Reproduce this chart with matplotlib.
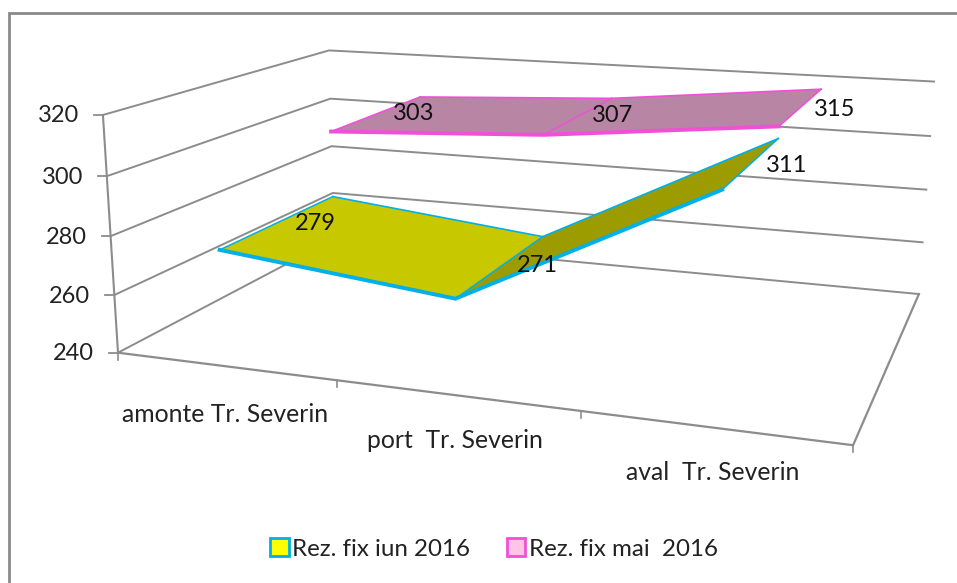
import numpy as np
import matplotlib
matplotlib.use("Agg")
import matplotlib.pyplot as plt
from matplotlib.patches import Polygon, Patch

categories = ["amonte Tr. Severin", "port  Tr. Severin", "aval  Tr. Severin"]
series_names = ["Rez. fix iun 2016", "Rez. fix mai  2016"]
values_jun = [279, 271, 311]
values_mai = [303, 307, 315]
value_ticks = [240, 260, 280, 300, 320]

plt.rcParams['font.family'] = ['Lato', 'DejaVu Sans']
GREY = "#8c8c8c"
FS = 17

# Camera of the 3-D box: (category, depth, value) -> pixel
box = [((0, 0, 240), (118, 352)), ((0, 0, 320), (103, 115)),
       ((0, 2, 240), (334, 240)), ((0, 2, 320), (329, 50)),
       ((3, 2, 240), (919, 293)), ((3, 2, 320), (934, 82)),
       ((3, 0, 240), (853, 446))]
A = []
for (X, Y, Z), (u, v) in box:
    Z = (Z - 240) / 80
    A.append([X, Y, Z, 1, 0, 0, 0, 0, -u * X, -u * Y, -u * Z, -u])
    A.append([0, 0, 0, 0, X, Y, Z, 1, -v * X, -v * Y, -v * Z, -v])
P = np.linalg.svd(np.array(A, float))[2][-1].reshape(3, 4)


def proj(x, d, val):
    h = P @ np.array([x, d, (val - 240) / 80, 1.0])
    return h[0] / h[2], h[1] / h[2]


fig = plt.figure(figsize=(9.57, 5.83), dpi=100)
ax = fig.add_axes([0, 0, 1, 1])
ax.set_xlim(0, 957)
ax.set_ylim(583, 0)
ax.axis("off")

# chart frame: only its top and left edges are inside the picture
ax.plot([8.5, 8.5, 957], [583, 13, 13], color="#8a8a8a", lw=2, solid_joinstyle="miter", zorder=1)

# walls and floor
for val in value_ticks:
    pts = [proj(0, 0, val), proj(0, 2, val), proj(3, 2, val)]
    ax.plot(*zip(*pts), color=GREY, lw=1.4, zorder=1)
    a = proj(0, 0, val)
    ax.plot([a[0] - 9, a[0]], [a[1], a[1]], color=GREY, lw=1.3, zorder=1)
    ax.text(a[0] - 24, a[1] + 1, str(val), ha="right", va="center", fontsize=FS, color="#222222")
ax.plot(*zip(proj(0, 0, 240), proj(0, 0, 320)), color=GREY, lw=1.5, zorder=1)
ax.plot(*zip(proj(0, 0, 240), proj(3, 0, 240), proj(3, 2, 240)), color=GREY, lw=1.6, zorder=1)
for i in range(4):
    a = proj(i, 0, 240)
    ax.plot([a[0], a[0]], [a[1], a[1] + 7], color=GREY, lw=1.2, zorder=1)

# ribbons
depths = [(0.0, 1.0), (1.0, 2.0)]
faces = [["#c8c800", "#9c9c00"], ["#b885a5", "#b885a5"]]
edges = ["#00b0e8", "#f050d8"]
for k, vals in enumerate([values_jun, values_mai]):
    d0, d1 = depths[k]
    front = [proj(i + 0.5, d0, v) for i, v in enumerate(vals)]
    back = [proj(i + 0.5, d1, v) for i, v in enumerate(vals)]
    for i in range(2):
        ax.add_patch(Polygon([front[i], front[i + 1], back[i + 1], back[i]], closed=True,
                             fc=faces[k][i], ec="none", zorder=3 - k * 0.5))
        ax.plot(*zip(back[i], back[i + 1]), color=edges[k], lw=1.2, zorder=3.1)
    for i in range(3):
        ax.plot(*zip(front[i], back[i]), color=edges[k], lw=1.1, zorder=3.1)
    ax.plot(*zip(*front), color=edges[k], lw=2.8, zorder=3.2, solid_joinstyle="miter")

# data labels
label_pos = {0: [(315, 223), (537, 266), (787, 165)], 1: [(414, 113), (613, 116), (835, 109)]}
for k, vals in enumerate([values_jun, values_mai]):
    for (x, y), v in zip(label_pos[k], vals):
        ax.text(x, y, str(v), ha="center", va="center", fontsize=FS, color="#111111", zorder=5)

# category labels
for (x, y), c in zip([(225, 414), (455, 441), (713, 473)], categories):
    ax.text(x, y, c, ha="center", va="center", fontsize=17.8, color="#222222")

handles = [Patch(fc="#ffff00", ec="#00b0e8", lw=2), Patch(fc="#ffc4e8", ec="#f050d8", lw=2)]
ax.legend(handles, series_names, ncols=2, loc="center", bbox_to_anchor=(494, 549),
          bbox_transform=ax.transData, frameon=False, fontsize=17.4, handlelength=0.78,
          handleheight=0.78, handletextpad=0.16, columnspacing=1.5, labelcolor="#222222")

fig.savefig("out.png", dpi=100)
